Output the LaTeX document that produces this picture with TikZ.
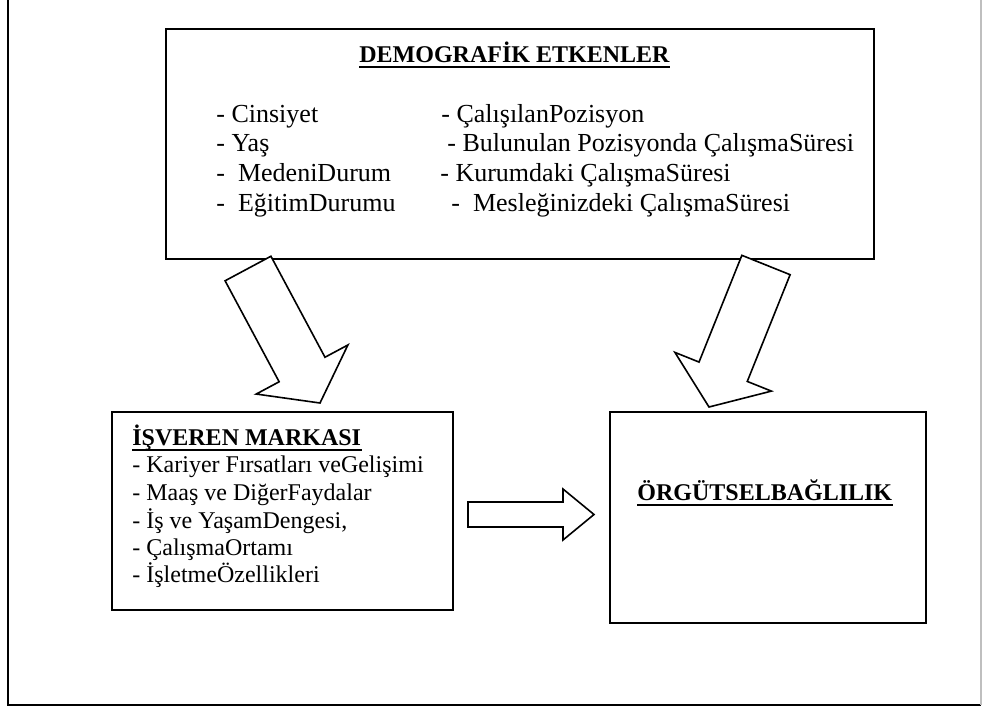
\documentclass[tikz,border=0pt]{standalone}
\usepackage{fontspec}
\setmainfont{Liberation Serif}
\usepackage{tikz}
\usetikzlibrary{positioning,calc}

% block arrow from a tail coordinate to a tip coordinate
% #1 tail, #2 tip, #3 half shaft, #4 half head, #5 head length
\newcommand{\blockarr}[5]{%
  \coordinate (#1neck) at ($(#2)!#5!(#1)$);
  \draw[barr] ($(#1)!#3!90:(#2)$) -- ($(#1neck)!#3!90:(#2)$) -- ($(#1neck)!#4!90:(#2)$)
    -- (#2) -- ($(#1neck)!#4!-90:(#2)$) -- ($(#1neck)!#3!-90:(#2)$) -- ($(#1)!#3!-90:(#2)$) -- cycle;}

\begin{document}
\begin{tikzpicture}[x=0.5pt, y=-0.5pt,
  every node/.style={inner sep=0pt},
  box/.style={draw, line width=1.25pt},
  item/.style={anchor=base west, font=\fontsize{12}{14}\selectfont},
  demoitem/.style={item, font=\fontsize{13}{15}\selectfont},
  ttl/.style={anchor=base west, font=\fontsize{12}{14}\selectfont\bfseries},
  uline/.style={line width=1.2pt},
  frame/.style={line width=1pt},
  barr/.style={draw, line width=0.8pt, fill=white}]

\useasboundingbox (0,0) rectangle (982,709);

% ---------------- page frame ----------------
\draw[frame] (8,0) -- (8,705) -- (981,705);
\draw[frame, black!25, line width=0.6pt] (981,0) -- (981,705);

% ---------------- boxes ----------------
\node[box, minimum width=354pt, minimum height=115pt] (demobox) at (520,144) {};
\node[box, minimum width=170.5pt, minimum height=99pt] (isvbox) at (282.5,511) {};
\node[box, minimum width=158pt, minimum height=105.5pt] (orgbox) at (768,517.5) {};

% ---------------- demographic factors ----------------
\node[ttl] (demottl) at (359,62) {DEMOGRAFİK ETKENLER};
\draw[uline] ([yshift=-2.5pt]demottl.base west) -- ([yshift=-2.5pt]demottl.base east);

\node[demoitem] (cins) at (216,122) {- Cinsiyet};
\node[demoitem] (yas) at (216,151) {- Yaş};
\node[demoitem] (medeni) at (216,181) {-~~MedeniDurum};
\node[demoitem] (egitim) at (216,211) {-~~EğitimDurumu};

\node[demoitem] (pozisyon) at (441,122) {- ÇalışılanPozisyon};
\node[demoitem] (bulunulan) at (447,151) {- Bulunulan Pozisyonda ÇalışmaSüresi};
\node[demoitem] (kurum) at (440,181) {- Kurumdaki ÇalışmaSüresi};
\node[demoitem] (meslek) at (451,211) {-~~Mesleğinizdeki ÇalışmaSüresi};

% ---------------- employer brand ----------------
\node[ttl] (isvttl) at (132,445.7) {İŞVEREN MARKASI};
\draw[uline] ([yshift=-2.2pt]isvttl.base west) -- ([yshift=-2.2pt]isvttl.base east);

\node[item] (kariyer) at (132,472) {- Kariyer Fırsatları veGelişimi};
\node[item] (maas) at (132,500) {- Maaş ve DiğerFaydalar};
\node[item] (denge) at (132,528) {- İş ve YaşamDengesi,};
\node[item] (ortam) at (132,555) {- ÇalışmaOrtamı};
\node[item] (ozellik) at (132,582) {- İşletmeÖzellikleri};

% ---------------- organisational commitment ----------------
\node[ttl] (orgttl) at (637,500) {ÖRGÜTSELBAĞLILIK};
\draw[uline] ([yshift=-2.5pt]orgttl.base west) -- ([yshift=-2.5pt]orgttl.base east);

% ---------------- block arrows ----------------
\coordinate (ltail) at (248,268.5);
\coordinate (ltip) at (320,403);
\blockarr{ltail}{ltip}{13pt}{26pt}{19pt}

\coordinate (rtail) at (766,265);
\coordinate (rtip) at (709,407);
\blockarr{rtail}{rtip}{13pt}{26pt}{19pt}

\coordinate (htail) at (468,514.5);
\coordinate (htip) at (594,514.5);
\blockarr{htail}{htip}{6.25pt}{12.75pt}{15.5pt}
\end{tikzpicture}
\end{document}
